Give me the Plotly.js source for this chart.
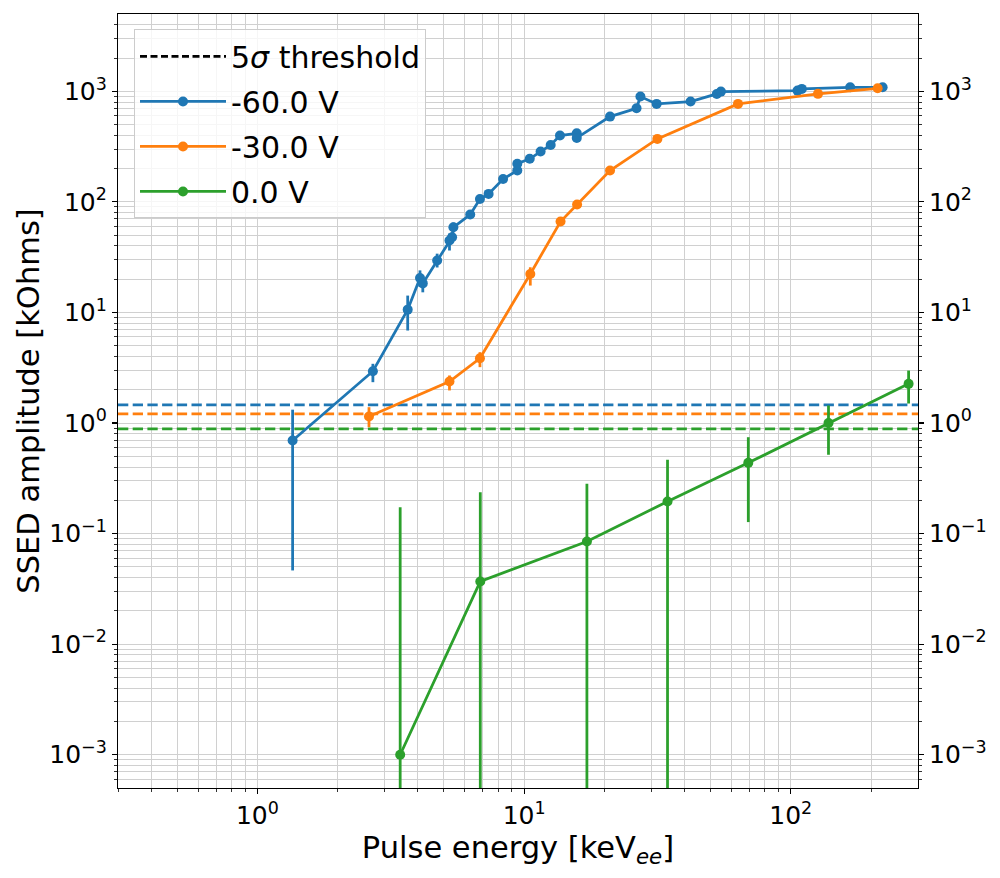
<!DOCTYPE html>
<html>
<head>
<meta charset="utf-8">
<script src="https://cdn.plot.ly/plotly-3.0.1.min.js"></script>
<style>
  html, body { margin: 0; padding: 0; background: #fff; }
  #chart { width: 1000px; height: 878px; }
</style>
</head>
<body>
<div id="chart"></div>
<script>
// ── Data ───────────────────────────────────────────────────────────────────

// -60.0 V
const blueE  = [1.355, 2.71, 3.66, 4.07, 4.17, 4.72, 5.25, 5.37, 5.43, 6.28, 6.83, 7.36, 8.34,
                9.43, 9.43, 10.5, 11.53, 12.58, 13.63, 15.76, 15.76, 21.0, 26.4, 27.3, 31.4,
                42.1, 52.8, 54.7, 106, 110, 167, 221];
const blueA  = [0.695, 2.94, 10.6, 20.5, 18.3, 29.5, 44.7, 47.9, 58.9, 76.8, 106, 118, 161,
                192, 221, 245, 285, 327, 398, 417, 379, 590, 702, 896, 769,
                807, 946, 993, 1014, 1051, 1087, 1087];
const blueLo = [0.0464, 2.34, 6.86, 17.0, 15.2, 25.5, 36.3, 43.0, 53.0, 72.0, 100, 112, 153,
                183, 211, 234, 273, 314, 382, 401, 364, 570, 680, 870, 748,
                786, 922, 970, 990, 1027, 1062, 1062];
const blueHi = [1.32, 3.43, 14.2, 24.0, 21.5, 34.0, 51.7, 53.0, 65.0, 82.0, 112, 124, 169,
                201, 231, 256, 297, 340, 414, 433, 394, 610, 724, 922, 790,
                828, 970, 1016, 1038, 1075, 1112, 1112];

// -30.0 V
const orangeE  = [2.62, 5.25, 6.83, 10.55, 13.7, 15.8, 21.0, 31.6, 63.4, 126.5, 211.7];
const orangeA  = [1.145, 2.37, 3.85, 22.3, 66.4, 94.5, 192, 371, 769, 948, 1064];
const orangeLo = [0.916, 1.97, 3.20, 17.5, 62.0, 89.0, 183, 358, 748, 925, 1040];
const orangeHi = [1.39, 2.69, 4.37, 25.6, 71.0, 100, 201, 384, 790, 971, 1088];

// 0.0 V  (a lower bound of 0 means the bar runs off the bottom of the log axis)
const greenE  = [3.43, 6.85, 17.2, 34.5, 69.3, 138.5, 276.6];
const greenA  = [0.001, 0.0369, 0.0848, 0.195, 0.436, 1.0, 2.26];
const greenLo = [0, 0, 0, 0, 0.127, 0.516, 1.50];
const greenHi = [0.173, 0.237, 0.282, 0.465, 0.744, 1.44, 2.98];

// 5 sigma thresholds per bias
const thresholds = [1.46, 1.21, 0.886];

const seriesNames  = ['-60.0 V', '-30.0 V', '0.0 V'];
const seriesColors = ['#1f77b4', '#ff7f0e', '#2ca02c'];

// axis extents and tick labels
const xRange = [0.3, 300];
const yRange = [5e-4, 5e3];
const xTickVals = [1, 10, 100];
const xTickText = ['10<sup>0</sup>', '10<sup>1</sup>', '10<sup>2</sup>'];
const yTickVals = [1e-3, 1e-2, 1e-1, 1, 10, 100, 1000];
const yTickText = ['10<sup>\u22123</sup>', '10<sup>\u22122</sup>', '10<sup>\u22121</sup>',
                   '10<sup>0</sup>', '10<sup>1</sup>', '10<sup>2</sup>', '10<sup>3</sup>'];

// ── Helpers ────────────────────────────────────────────────────────────────

function minorVals(lo, hi) {
  const out = [];
  for (let p = Math.floor(Math.log10(lo)); p <= Math.ceil(Math.log10(hi)); p++) {
    for (let k = 2; k <= 9; k++) {
      const v = k * Math.pow(10, p);
      if (v > lo && v < hi) out.push(v);
    }
  }
  return out;
}

const LW = 2.78;       // matplotlib lw=2 at 100 dpi
const DASH = '10.3px,4.4px';

function errTrace(name, color, x, y, lo, hi) {
  return {
    type: 'scatter', mode: 'lines+markers', name, legendgroup: name,
    x, y,
    line:   { color, width: LW },
    marker: { color, size: 10 },
    error_y: {
      type: 'data', symmetric: false,
      array:      hi.map((h, i) => h - y[i]),
      arrayminus: lo.map((l, i) => y[i] - l),
      color, thickness: LW, width: 0,
    },
  };
}

const FONT = 'DejaVu Sans, Verdana, sans-serif';
const GRID = '#d0d0d0';
const lx = xRange.map(Math.log10);
const ly = yRange.map(Math.log10);

// ── Traces ─────────────────────────────────────────────────────────────────

const thresholdTraces = thresholds.map((t, i) => ({
  type: 'scatter', mode: 'lines', showlegend: false, hoverinfo: 'skip',
  x: xRange, y: [t, t],
  line: { color: seriesColors[i], width: LW, dash: DASH },
}));

// legend-only entry for the dashed threshold style
const thresholdKey = {
  type: 'scatter', mode: 'lines', name: '5<i>σ</i> threshold', legendgroup: 'thr',
  x: [0.01, 0.02], y: [1, 1], yaxis: 'y2',
  line: { color: 'black', width: LW, dash: '7px,3.5px' },
};

const data = [
  ...thresholdTraces,
  thresholdKey,
  errTrace(seriesNames[0], seriesColors[0], blueE, blueA, blueLo, blueHi),
  errTrace(seriesNames[1], seriesColors[1], orangeE, orangeA, orangeLo, orangeHi),
  errTrace(seriesNames[2], seriesColors[2], greenE, greenA, greenLo, greenHi),
];

// ── Layout ─────────────────────────────────────────────────────────────────

const yMinor = minorVals(yRange[0], yRange[1]);

const layout = {
  width: 1000, height: 878,
  paper_bgcolor: '#fff', plot_bgcolor: '#fff',
  font: { family: FONT, color: '#000', size: 25 },
  margin: { l: 118, r: 82, t: 14, b: 90 },
  showlegend: true,
  legend: {
    x: 0.02, y: 0.98, xanchor: 'left', yanchor: 'top',
    bgcolor: 'rgba(255,255,255,0.8)', bordercolor: '#cccccc', borderwidth: 1,
    font: { family: FONT, size: 30, color: '#000' },
    traceorder: 'grouped', tracegroupgap: 3, itemwidth: 86,
  },
  xaxis: {
    type: 'log', range: lx, autorange: false,
    tickmode: 'array', tickvals: xTickVals, ticktext: xTickText,
    ticks: 'outside', ticklen: 5, tickwidth: 1.1, tickcolor: '#000',
    tickfont: { family: FONT, size: 25, color: '#000' },
    showline: true, linecolor: '#000', linewidth: 1.1, mirror: true,
    showgrid: true, gridcolor: GRID, gridwidth: 1, zeroline: false,
    minor: {
      tickmode: 'array', tickvals: minorVals(xRange[0], xRange[1]),
      ticks: 'outside', ticklen: 3, tickwidth: 0.8, tickcolor: '#000',
      showgrid: true, gridcolor: GRID, gridwidth: 1,
    },
    title: { text: 'Pulse energy [keV<sub><i>ee</i></sub>]', font: { family: FONT, size: 30.5 }, standoff: 6 },
  },
  yaxis: {
    type: 'log', range: ly, autorange: false,
    tickmode: 'array', tickvals: yTickVals, ticktext: yTickText,
    ticks: 'outside', ticklen: 5, tickwidth: 1.1, tickcolor: '#000',
    tickfont: { family: FONT, size: 25, color: '#000' },
    showline: true, linecolor: '#000', linewidth: 1.1, mirror: true,
    showgrid: true, gridcolor: GRID, gridwidth: 1, zeroline: false,
    minor: {
      tickmode: 'array', tickvals: yMinor,
      ticks: 'outside', ticklen: 3, tickwidth: 0.8, tickcolor: '#000',
      showgrid: true, gridcolor: GRID, gridwidth: 1,
    },
    title: { text: 'SSED amplitude [kOhms]', font: { family: FONT, size: 30.5 }, standoff: 0 },
  },
  yaxis2: {
    type: 'log', range: ly, autorange: false,
    overlaying: 'y', side: 'right', anchor: 'x',
    tickmode: 'array', tickvals: yTickVals, ticktext: yTickText,
    ticks: 'outside', ticklen: 5, tickwidth: 1.1, tickcolor: '#000',
    tickfont: { family: FONT, size: 25, color: '#000' },
    showline: false, showgrid: false, zeroline: false,
    minor: {
      tickmode: 'array', tickvals: yMinor,
      ticks: 'outside', ticklen: 3, tickwidth: 0.8, tickcolor: '#000',
      showgrid: false,
    },
  },
};

Plotly.newPlot('chart', data, layout, { displayModeBar: false, staticPlot: true });
</script>
</body>
</html>
